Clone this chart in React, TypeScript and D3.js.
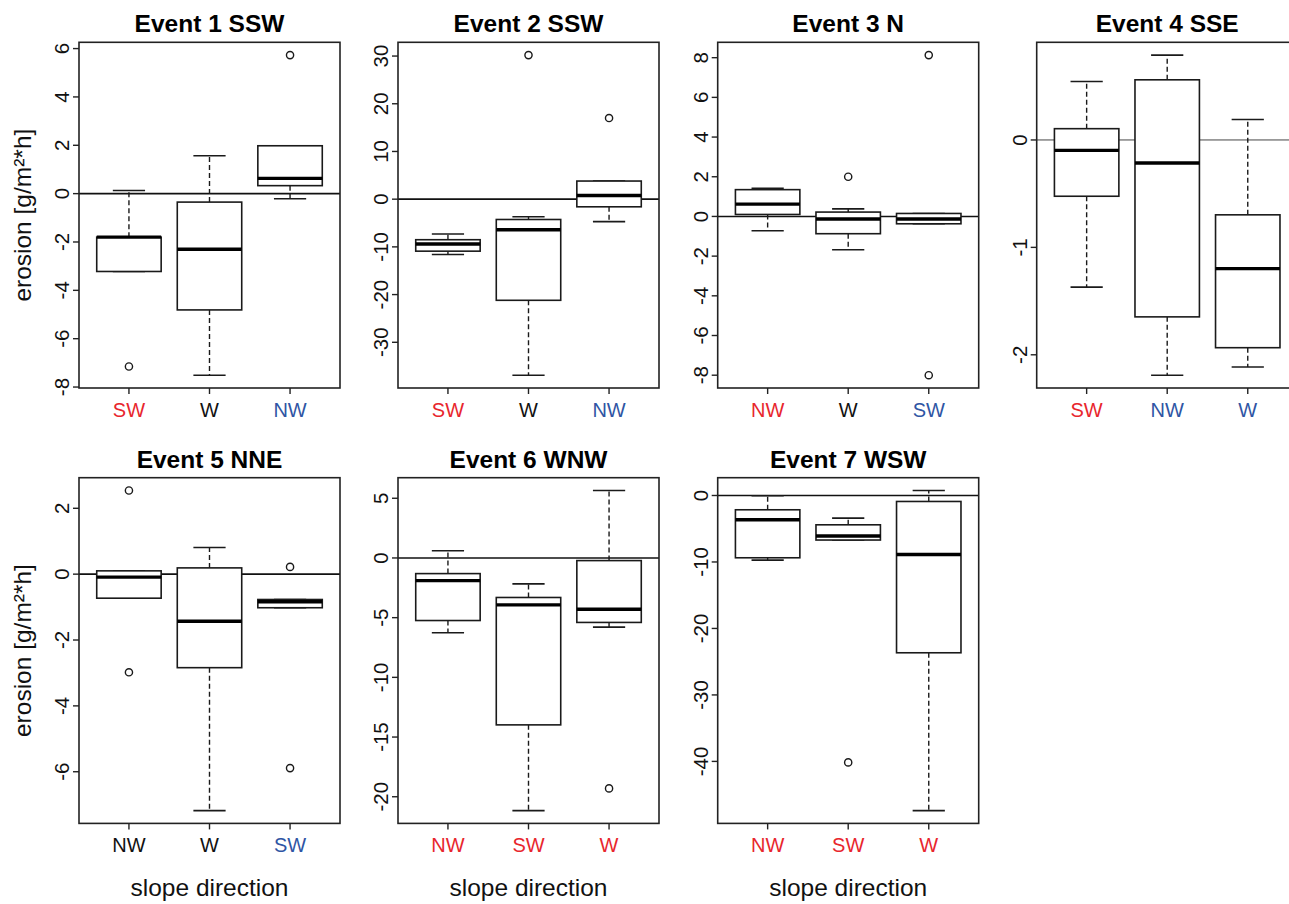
import React from "react";
import * as d3 from "d3";

// ---------- data ----------
const titles = ["Event 1 SSW", "Event 2 SSW", "Event 3 N", "Event 4 SSE", "Event 5 NNE", "Event 6 WNW", "Event 7 WSW"];

// categories per event
const cats1 = ["SW", "W", "NW"];
const cats2 = ["SW", "W", "NW"];
const cats3 = ["NW", "W", "SW"];
const cats4 = ["SW", "NW", "W"];
const cats5 = ["NW", "W", "SW"];
const cats6 = ["NW", "SW", "W"];
const cats7 = ["NW", "SW", "W"];

// box stats per category: [lower whisker, Q1, median, Q3, upper whisker]
const stats1 = [[-3.22, -3.22, -1.8, -1.8, 0.13], [-7.51, -4.81, -2.3, -0.35, 1.57], [-0.21, 0.33, 0.63, 1.98, 1.98]];
const stats2 = [[-11.6, -10.9, -9.4, -8.5, -7.3], [-36.9, -21.2, -6.4, -4.26, -3.7], [-4.7, -1.6, 0.76, 3.8, 3.8]];
const stats3 = [[-0.72, 0.1, 0.62, 1.35, 1.42], [-1.68, -0.87, -0.13, 0.22, 0.38], [-0.37, -0.37, -0.13, 0.15, 0.15]];
const stats4 = [[-1.37, -0.524, -0.097, 0.105, 0.544], [-2.19, -1.647, -0.214, 0.56, 0.79], [-2.114, -1.934, -1.198, -0.697, 0.19]];
const stats5 = [[-0.73, -0.73, -0.09, 0.1, 0.1], [-7.18, -2.84, -1.43, 0.19, 0.81], [-1.02, -1.02, -0.84, -0.77, -0.77]];
const stats6 = [[-6.27, -5.24, -1.9, -1.31, 0.61], [-21.16, -13.98, -3.93, -3.31, -2.17], [-5.79, -5.4, -4.29, -0.22, 5.65]];
const stats7 = [[-9.72, -9.37, -3.65, -2.15, -0.05], [-6.7, -6.7, -6.1, -4.41, -3.4], [-47.4, -23.66, -8.87, -0.9, 0.75]];

// outliers per category
const outs1 = [[-7.15], [], [5.73]];
const outs2 = [[], [30.2], [17.0]];
const outs3 = [[], [2.0], [8.13, -8.0]];
const outs4 = [[], [], []];
const outs5 = [[2.54, -2.98], [], [0.22, -5.89]];
const outs6 = [[], [], [-19.3]];
const outs7 = [[], [-40.15], []];

// y tick values
const ticks1 = [-8, -6, -4, -2, 0, 2, 4, 6];
const ticks2 = [-30, -20, -10, 0, 10, 20, 30];
const ticks3 = [-8, -6, -4, -2, 0, 2, 4, 6, 8];
const ticks4 = [-2, -1, 0];
const ticks5 = [-6, -4, -2, 0, 2];
const ticks6 = [-20, -15, -10, -5, 0, 5];
const ticks7 = [-40, -30, -20, -10, 0];

// ---------- styles / layout ----------
const RED = "#e8262d";
const BLUE = "#2f55a4";
const BLK = "#111";
const labelColors = [
  [RED, BLK, BLUE],
  [RED, BLK, BLUE],
  [RED, BLK, BLUE],
  [RED, BLUE, BLUE],
  [BLK, BLK, BLUE],
  [RED, RED, RED],
  [RED, RED, RED],
];
const layout = [
  { x: 79, y: 42.3, ylab: true, xlab: false },
  { x: 398, y: 42.3, ylab: false, xlab: false },
  { x: 717.7, y: 42.3, ylab: false, xlab: false },
  { x: 1036.7, y: 42.3, ylab: false, xlab: false, thinZero: true },
  { x: 79, y: 477.7, ylab: true, xlab: true },
  { x: 398, y: 477.7, ylab: false, xlab: true },
  { x: 717.7, y: 477.7, ylab: false, xlab: true },
];
const W = 261;
const H = 345.7;
const FONT = "'Liberation Sans', Arial, Helvetica, sans-serif";

type PanelProps = {
  title: string;
  cats: string[];
  stats: number[][];
  outs: number[][];
  ticks: number[];
  colors: string[];
  lay: any;
};

function Panel({ title, cats, stats, outs, ticks, colors, lay }: PanelProps) {
  const all = stats.flat().concat(outs.flat());
  const mn = d3.min(all) as number;
  const mx = d3.max(all) as number;
  const pad = (mx - mn) * 0.04;
  const y = d3.scaleLinear().domain([mn - pad, mx + pad]).range([H, 0]);
  const x = d3.scaleLinear().domain([0.38, 3.62]).range([0, W]);
  const half = x(1.4) - x(1);
  const cap = half / 2;
  const stroke = "#1a1a1a";
  return (
    <g transform={`translate(${lay.x},${lay.y})`}>
      <text x={W / 2} y={-10} textAnchor="middle" fontFamily={FONT} fontWeight="bold" fontSize={24.5} fill="#000">
        {title}
      </text>
      {/* zero line */}
      <line x1={0} x2={W} y1={y(0)} y2={y(0)} stroke={lay.thinZero ? "#444" : "#111"} strokeWidth={lay.thinZero ? 1 : 1.6} />
      {stats.map((s, i) => {
        const cx = x(i + 1);
        const [lo, q1, med, q3, hi] = s;
        return (
          <g key={i}>
            <line x1={cx} x2={cx} y1={y(q3)} y2={y(hi)} stroke={stroke} strokeWidth={1.4} strokeDasharray="5,3" />
            <line x1={cx} x2={cx} y1={y(q1)} y2={y(lo)} stroke={stroke} strokeWidth={1.4} strokeDasharray="5,3" />
            <line x1={cx - cap} x2={cx + cap} y1={y(hi)} y2={y(hi)} stroke={stroke} strokeWidth={1.6} />
            <line x1={cx - cap} x2={cx + cap} y1={y(lo)} y2={y(lo)} stroke={stroke} strokeWidth={1.6} />
            <rect x={cx - half} y={y(q3)} width={2 * half} height={Math.max(0.1, y(q1) - y(q3))} fill="white" stroke={stroke} strokeWidth={1.6} />
            <line x1={cx - half} x2={cx + half} y1={y(med)} y2={y(med)} stroke="#000" strokeWidth={3.4} />
            {outs[i].map((o, j) => (
              <circle key={j} cx={cx} cy={y(o)} r={3.6} fill="none" stroke={stroke} strokeWidth={1.4} />
            ))}
          </g>
        );
      })}
      {/* frame */}
      <rect x={0} y={0} width={W} height={H} fill="none" stroke="#222" strokeWidth={1.6} />
      {/* y axis ticks */}
      {ticks.map((t) => (
        <g key={t}>
          <line x1={-6} x2={0} y1={y(t)} y2={y(t)} stroke="#222" strokeWidth={1.4} />
          <text
            transform={`translate(${-10},${y(t)}) rotate(-90)`}
            textAnchor="middle"
            fontFamily={FONT}
            fontSize={20.5}
            fill="#111"
          >
            {String(t)}
          </text>
        </g>
      ))}
      {/* x axis ticks */}
      {cats.map((c, i) => (
        <g key={c}>
          <line x1={x(i + 1)} x2={x(i + 1)} y1={H} y2={H + 6} stroke="#222" strokeWidth={1.4} />
          <text x={x(i + 1)} y={H + 29} textAnchor="middle" fontFamily={FONT} fontSize={20} fill={colors[i]}>
            {c}
          </text>
        </g>
      ))}
      {lay.ylab && (
        <text transform={`translate(${-48},${H / 2}) rotate(-90)`} textAnchor="middle" fontFamily={FONT} fontSize={24.5} fill="#111">
          erosion [g/m²*h]
        </text>
      )}
      {lay.xlab && (
        <text x={W / 2} y={H + 73} textAnchor="middle" fontFamily={FONT} fontSize={24.5} fill="#111">
          slope direction
        </text>
      )}
    </g>
  );
}

export default function App() {
  const catsAll = [cats1, cats2, cats3, cats4, cats5, cats6, cats7];
  const statsAll = [stats1, stats2, stats3, stats4, stats5, stats6, stats7];
  const outsAll = [outs1, outs2, outs3, outs4, outs5, outs6, outs7];
  const ticksAll = [ticks1, ticks2, ticks3, ticks4, ticks5, ticks6, ticks7];
  return (
    <svg width={1289} height={904} style={{ position: "absolute", left: 0, top: 0, background: "white" }}>
      <rect x={0} y={0} width={1289} height={904} fill="white" />
      {titles.map((t, i) => (
        <Panel
          key={t}
          title={t}
          cats={catsAll[i]}
          stats={statsAll[i]}
          outs={outsAll[i]}
          ticks={ticksAll[i]}
          colors={labelColors[i]}
          lay={layout[i]}
        />
      ))}
    </svg>
  );
}
